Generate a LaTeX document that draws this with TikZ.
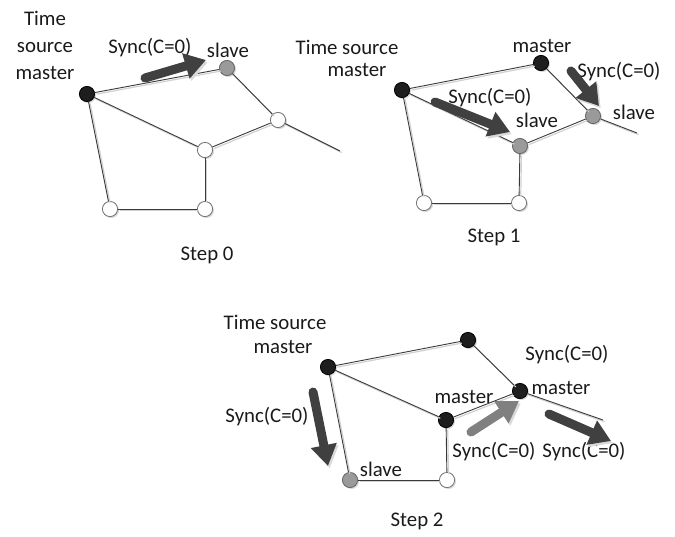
\documentclass[tikz,border=0pt]{standalone}
\usepackage{fontspec}
\setmainfont{Carlito}
\usetikzlibrary{arrows.meta,shadows}
\definecolor{inkc}{HTML}{1A1A1A}
\definecolor{linkc}{HTML}{3A3A3A}
\definecolor{darkarrow}{HTML}{404040}
\definecolor{lightarrow}{HTML}{808080}
\definecolor{slavefill}{HTML}{9A9A9A}
\definecolor{masterfill}{HTML}{1E1E1E}
\begin{document}
\begin{tikzpicture}[x=0.5pt,y=-0.5pt,
  lbl/.style={font=\fontsize{10.4}{13.5}\selectfont, text=inkc, inner sep=0pt, align=center},
  dev/.style={circle, minimum size=7.6pt, inner sep=0pt, line width=0.4pt,
              drop shadow={shadow xshift=0.7pt, shadow yshift=-0.7pt, fill=black!25, opacity=0.6}},
  freenode/.style={dev, draw=black!55, fill=white},
  slavenode/.style={dev, draw=black!60, fill=slavefill},
  masternode/.style={dev, draw=black, fill=masterfill},
  link/.style={draw=linkc, line width=0.45pt},
  linkshade/.style={draw=black!18, line width=0.6pt, transform canvas={shift={(0.8pt,-0.8pt)}}},
  syncarrow/.style={draw=darkarrow, line width=4.5pt, line cap=round,
     -{Triangle[length=10.5pt,width=12.5pt]},
     preaction={draw=black!15, transform canvas={shift={(0.9pt,-1.1pt)}}}},
  syncarrowlight/.style={syncarrow, draw=lightarrow}]
\useasboundingbox (0,0) rectangle (675,536);

% ---------------- Step 0 ----------------
\node[masternode] (a0) at (87,94) {};
\node[slavenode]  (s0) at (227,68) {};
\node[freenode]   (r0) at (278,120) {};
\node[freenode]   (c0) at (205,150) {};
\node[freenode]   (bl0) at (110,209) {};
\node[freenode]   (br0) at (205,209) {};
\coordinate (e0) at (340,151);

\foreach \u/\v in {a0/s0, s0/r0, a0/c0, c0/r0, a0/bl0, bl0/br0, br0/c0, r0/e0}{
  \path[linkshade] (\u) -- (\v);
  \path[link] (\u) -- (\v);
}
\node[lbl] (ts0) at (45,45) {Time\\source\\master};
\node[lbl] (sy0) at (150,48) {Sync(C=0)};
\node[lbl] (sl0) at (228,50) {slave};
\coordinate (p0a) at (145,78);
\coordinate (p0b) at (206,60);
\draw[syncarrow] (p0a) -- (p0b);
\node[lbl] (st0) at (207,255) {Step 0};

% ---------------- Step 1 ----------------
\node[masternode] (a1) at (402,90) {};
\node[masternode] (m1) at (541,63) {};
\node[slavenode]  (sc1) at (520,146) {};
\node[slavenode]  (sr1) at (593,116) {};
\node[freenode]   (bl1) at (424,203) {};
\node[freenode]   (br1) at (519,203) {};
\coordinate (e1) at (637,133);

\foreach \u/\v in {a1/m1, m1/sr1, a1/sc1, sc1/sr1, a1/bl1, bl1/br1, br1/sc1, sr1/e1}{
  \path[linkshade] (\u) -- (\v);
  \path[link] (\u) -- (\v);
}
\node[lbl] (ts1) at (347,47) {Time source};
\node[lbl] (tm1) at (357,70) {master};
\node[lbl] (mt1) at (542,46) {master};
\node[lbl] (sy1a) at (619,72) {Sync(C=0)};
\node[lbl] (sy1b) at (490,98) {Sync(C=0)};
\node[lbl] (sl1a) at (537,120) {slave};
\node[lbl] (sl1b) at (634,112) {slave};
\coordinate (p1a) at (435,102);
\coordinate (p1b) at (510,132);
\draw[syncarrow] (p1a) -- (p1b);
\coordinate (p1c) at (571,71);
\coordinate (p1d) at (599,106);
\draw[syncarrow] (p1c) -- (p1d);
\node[lbl] (st1) at (494,237) {Step 1};

% ---------------- Step 2 ----------------
\node[masternode] (a2) at (328,367) {};
\node[masternode] (t2) at (468,340) {};
\node[masternode] (rm2) at (520,391) {};
\node[masternode] (cm2) at (446,420) {};
\node[slavenode]  (bl2) at (350,480) {};
\node[freenode]   (br2) at (447,480) {};
\coordinate (e2) at (603,420);

\foreach \u/\v in {a2/t2, t2/rm2, a2/cm2, cm2/rm2, a2/bl2, bl2/br2, br2/cm2, rm2/e2}{
  \path[linkshade] (\u) -- (\v);
  \path[link] (\u) -- (\v);
}
\node[lbl] (ts2) at (275,322) {Time source};
\node[lbl] (tm2) at (283,347) {master};
\node[lbl] (sy2a) at (567,355) {Sync(C=0)};
\node[lbl] (mr2) at (561,388) {master};
\node[lbl] (mc2) at (464,397) {master};
\node[lbl] (sy2b) at (267,417) {Sync(C=0)};
\node[lbl] (sy2c) at (494,452) {Sync(C=0)};
\node[lbl] (sy2d) at (584,452) {Sync(C=0)};
\node[lbl] (sl2) at (381,469) {slave};
\coordinate (p2a) at (313,392);
\coordinate (p2b) at (328,466);
\draw[syncarrow] (p2a) -- (p2b);
\coordinate (p2c) at (471,432);
\coordinate (p2d) at (519,401);
\draw[syncarrowlight] (p2c) -- (p2d);
\coordinate (p2e) at (549,414);
\coordinate (p2f) at (611,441);
\draw[syncarrow] (p2e) -- (p2f);
\node[lbl] (st2) at (417,521) {Step 2};
\end{tikzpicture}
\end{document}
